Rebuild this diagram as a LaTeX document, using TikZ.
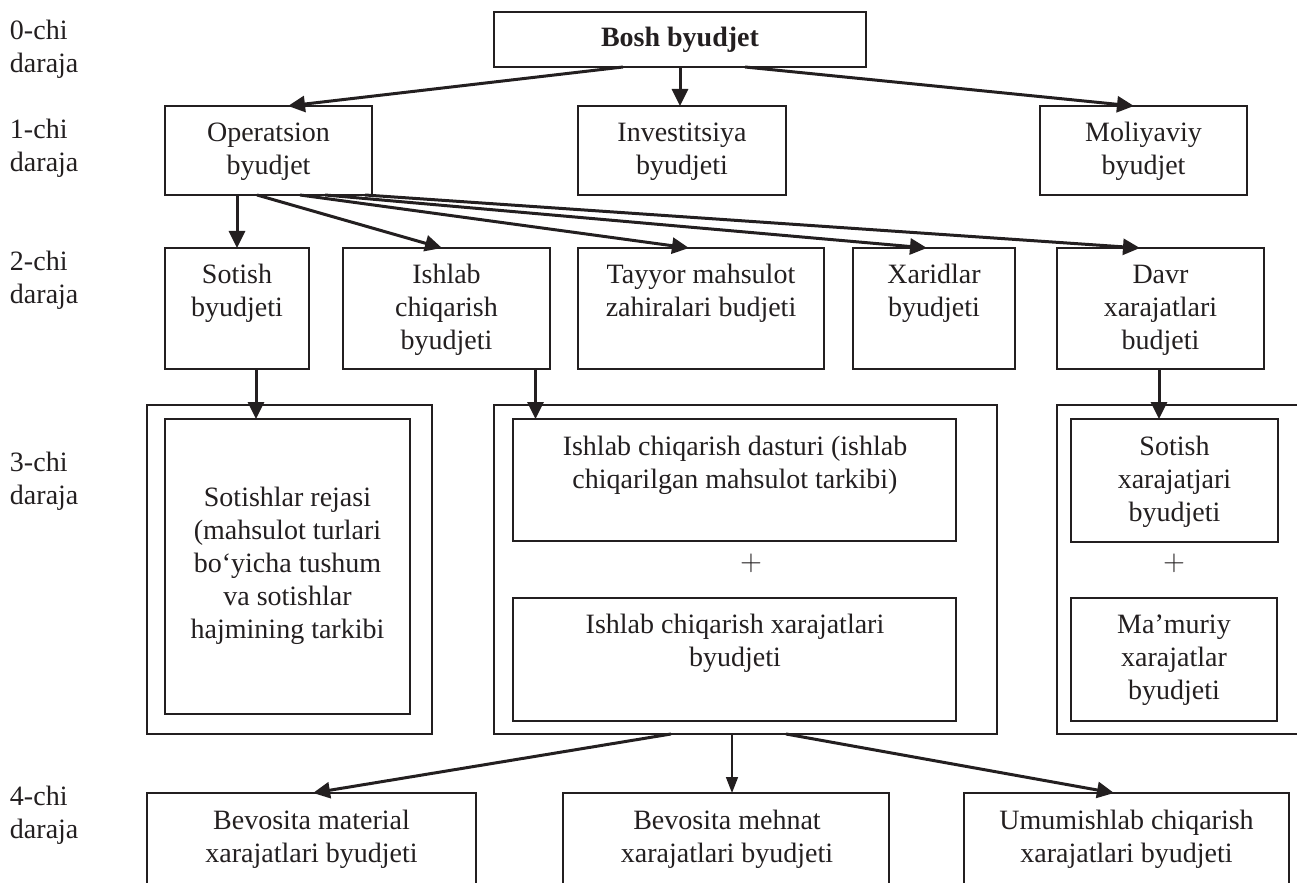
\documentclass[tikz,border=0pt]{standalone}
\usepackage{fontspec}
\setmainfont{Liberation Serif}
\usetikzlibrary{arrows.meta,calc}
\definecolor{ink}{RGB}{35,31,32}
\begin{document}
\begin{tikzpicture}[x=0.5pt,y=-0.5pt,
  every node/.style={font=\fontsize{14}{16.5}\selectfont, text=ink, inner sep=0pt, outer sep=0pt},
  lbl/.style={align=center},
  lvl/.style={align=left, anchor=west},
  box/.style={draw=ink, line width=1pt, rectangle},
  frame/.style={draw=ink, line width=0.8pt, rectangle},
  arr/.style={draw=ink, line width=1.5pt, -{Triangle[length=8.5pt,width=8pt]}},
  thinarr/.style={draw=ink, line width=0.8pt, -{Triangle[length=8pt,width=6pt]}}]

\useasboundingbox (0,0) rectangle (1297,883);
\clip (0,0) rectangle (1297,883);

% level captions
\node[lvl] (l0) at (10,49)    {0-chi\\daraja};
\node[lvl] (l1) at (10,148.5) {1-chi\\daraja};
\node[lvl] (l2) at (10,280)   {2-chi\\daraja};
\node[lvl] (l3) at (10,481)   {3-chi\\daraja};
\node[lvl] (l4) at (10,815)   {4-chi\\daraja};

% level 0
\node[box, minimum width=186pt, minimum height=27.5pt] (bosh) at (680,39.5) {};
\node[lbl] (bosh-t) at (680,40) {\textbf{Bosh byudjet}};

% level 1
\node[box, minimum width=103.5pt, minimum height=44.5pt] (oper) at (268.5,150.5) {};
\node[lbl] (oper-t) at (268.5,151.5) {Operatsion\\byudjet};
\node[box, minimum width=104pt, minimum height=44.5pt] (inv) at (682,150.5) {};
\node[lbl] (inv-t) at (682,151.5) {Investitsiya\\byudjeti};
\node[box, minimum width=103.5pt, minimum height=44.5pt] (mol) at (1143.5,150.5) {};
\node[lbl] (mol-t) at (1143.5,151.5) {Moliyaviy\\byudjet};

% level 2
\node[box, minimum width=72pt, minimum height=60.5pt] (sot) at (237,308.5) {};
\node[lbl] (sot-t) at (237,293.5) {Sotish\\byudjeti};
\node[box, minimum width=103.5pt, minimum height=60.5pt] (ish) at (446.5,308.5) {};
\node[lbl] (ish-t) at (446.5,310) {Ishlab\\chiqarish\\byudjeti};
\node[box, minimum width=123pt, minimum height=60.5pt] (tay) at (701,308.5) {};
\node[lbl] (tay-t) at (701,293.5) {Tayyor mahsulot\\zahiralari budjeti};
\node[box, minimum width=81pt, minimum height=60.5pt] (xar) at (934,308.5) {};
\node[lbl] (xar-t) at (934,293.5) {Xaridlar\\byudjeti};
\node[box, minimum width=103.5pt, minimum height=60.5pt] (davr) at (1160.5,308.5) {};
\node[lbl] (davr-t) at (1160.5,310) {Davr\\xarajatlari\\budjeti};

% level 3: framed groups
\node[frame, minimum width=142.5pt, minimum height=164.5pt] (gl) at (289.5,569.5) {};
\node[frame, minimum width=251.5pt, minimum height=164.5pt] (gm) at (745.5,569.5) {};
\node[frame, minimum width=126.5pt, minimum height=164.5pt] (gr) at (1183.5,569.5) {};

\node[box, minimum width=122.5pt, minimum height=147.5pt] (plan) at (287.5,566.5) {};
\node[lbl] (plan-t) at (287.5,566) {Sotishlar rejasi\\(mahsulot turlari\\bo‘yicha tushum\\va sotishlar\\hajmining tarkibi};

\node[box, minimum width=221.5pt, minimum height=61pt] (dast) at (734.5,480) {};
\node[lbl] (dast-t) at (735,465) {Ishlab chiqarish dasturi (ishlab\\chiqarilgan mahsulot tarkibi)};
\node[lbl] (plus1) at (751,563) {$+$};
\node[box, minimum width=221.5pt, minimum height=61.5pt] (ixar) at (734.5,659.5) {};
\node[lbl] (ixar-t) at (735,643.5) {Ishlab chiqarish xarajatlari\\byudjeti};

\node[box, minimum width=103.5pt, minimum height=61.5pt] (sxar) at (1174.5,480.5) {};
\node[lbl] (sxar-t) at (1174.5,482) {Sotish\\xarajatjari\\byudjeti};
\node[lbl] (plus2) at (1174,563) {$+$};
\node[box, minimum width=103pt, minimum height=61.5pt] (mxar) at (1174,659.5) {};
\node[lbl] (mxar-t) at (1174,660) {Ma’muriy\\xarajatlar\\byudjeti};

% level 4
\node[box, minimum width=164.5pt, minimum height=68.5pt] (mat) at (311.5,861.5) {};
\node[lbl] (mat-t) at (311.5,839.5) {Bevosita material\\xarajatlari byudjeti};
\node[box, minimum width=163pt, minimum height=68.5pt] (meh) at (726,861.5) {};
\node[lbl] (meh-t) at (727,839.5) {Bevosita mehnat\\xarajatlari byudjeti};
\node[box, minimum width=162.5pt, minimum height=68.5pt] (umu) at (1126.5,861.5) {};
\node[lbl] (umu-t) at (1126.5,839.5) {Umumishlab chiqarish\\xarajatlari byudjeti};

% connectors
\draw[arr] ($(bosh.south)+(-57,0)$) -- ($(oper.north)+(19.5,0)$);
\draw[arr] (bosh.south) -- (bosh.south |- inv.north);
\draw[arr] ($(bosh.south)+(65,0)$) -- ($(mol.north)+(-9.5,0)$);

\draw[arr] (oper.south -| sot.north) -- (sot.north);
\draw[arr] ($(oper.south)+(-11.5,0)$) -- ($(ish.north)+(-4.5,0)$);
\draw[arr] ($(oper.south)+(31.5,0)$) -- ($(tay.north)+(-12,0)$);
\draw[arr] ($(oper.south)+(56.5,0)$) -- ($(xar.north)+(-7,0)$);
\draw[arr] ($(oper.south)+(96.5,0)$) -- ($(davr.north)+(-20.5,0)$);

\coordinate (s1) at ($(sot.south)+(19,0)$);
\draw[arr] (s1) -- (s1 |- plan.north);
\coordinate (s2) at ($(ish.south)+(89,0)$);
\draw[arr] (s2) -- (s2 |- dast.north);
\coordinate (s3) at ($(davr.south)+(-1.5,0)$);
\draw[arr] (s3) -- (s3 |- sxar.north);

\draw[arr] ($(gm.south)+(-74.5,0)$) -- ($(mat.north)+(1.5,0)$);
\coordinate (s4) at ($(gm.south)+(-13.5,0)$);
\draw[thinarr] (s4) -- (s4 |- meh.north);
\draw[arr] ($(gm.south)+(40.5,0)$) -- ($(umu.north)+(-12.5,0)$);
\end{tikzpicture}
\end{document}
